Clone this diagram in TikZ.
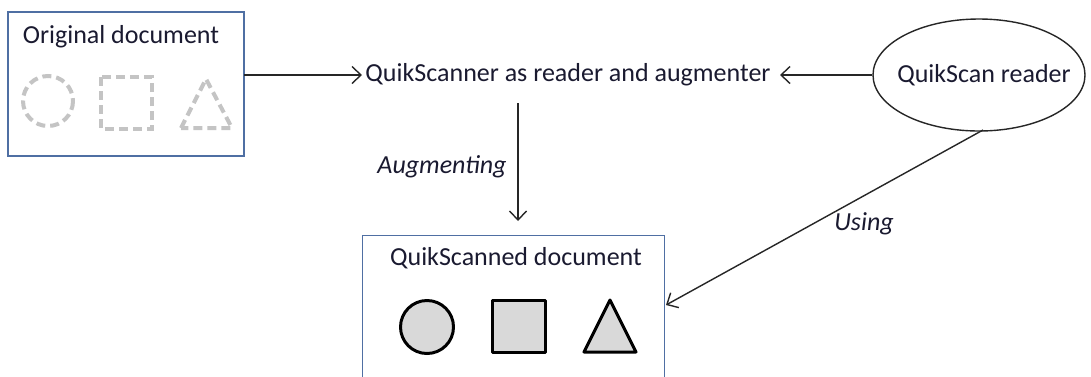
\documentclass[tikz,border=0pt]{standalone}
\usepackage{fontspec}
\setmainfont{Carlito}
\usetikzlibrary{shapes.geometric,arrows.meta}
\definecolor{boxblue}{HTML}{4F6FA3}
\definecolor{dashgray}{HTML}{C4C4C4}
\definecolor{fillgray}{HTML}{D9D9D9}
\definecolor{txt}{HTML}{1A1A30}
\tikzset{
  docbox/.style={draw=boxblue, line width=1.4pt, rectangle, inner sep=0pt},
  lbl/.style={font=\fontsize{26}{30}\selectfont, text=txt, inner sep=0pt},
  edge lbl/.style={font=\fontsize{26}{30}\selectfont\itshape, text=txt, inner sep=0pt},
  conn/.style={draw=black!85, line width=1.4pt, -{Straight Barb[length=9pt,width=17pt,line width=1.4pt]}},
  ghost/.style={draw=dashgray, line width=4pt, dash pattern=on 9pt off 5pt},
  solid shape/.style={draw=black, line width=3pt, fill=fillgray, line join=round},
}
\begin{document}
\begin{tikzpicture}[x=1pt,y=-1pt]
\useasboundingbox (0,0) rectangle (1091,376);
\clip (0,0) rectangle (1091,376);
\fill[white] (0,0) rectangle (1091,376);

% Original document box
\node[docbox, minimum width=236pt, minimum height=144pt] (orig) at (126,84) {};
\node[lbl] (origt) at (121,37) {Original document};
\draw[ghost] (48,101) circle (25);
\draw[ghost] (101,77) rectangle (152,129);
\draw[ghost, line join=round] (181,128) -- (206,79) -- (232,128) -- cycle;

% Central text
\node[lbl] (qs) at (568,75) {QuikScanner as reader and augmenter};

% Ellipse
\node[draw=black!85, line width=1.4pt, ellipse, minimum width=212pt, minimum height=112pt] (reader) at (979,75) {};
\node[lbl] (readert) at (984,75) {QuikScan reader};

% Scanned document box
\node[docbox, minimum width=302pt, minimum height=160pt, anchor=north west] (scan) at (362,235) {};
\node[lbl] (scant) at (516,258) {QuikScanned document};
\draw[solid shape] (427,327) circle (26.5);
\draw[solid shape] (492,300) rectangle (545,352);
\draw[solid shape] (584,352) -- (610,300) -- (636,352) -- cycle;

% Connectors
\coordinate (a1s) at (244,75);
\coordinate (a1e) at (362,75);
\draw[conn] (a1s) -- (a1e);
\coordinate (a2e) at (780,75);
\draw[conn] (reader.west) -- (a2e);
\coordinate (a3s) at (518,103);
\coordinate (a3e) at (518,221);
\draw[conn] (a3s) -- (a3e);
\node[edge lbl] (aug) at (442,167) {Augmenting};
\coordinate (a4s) at (983,130);
\coordinate (a4e) at (666,305);
\draw[conn] (a4s) -- (a4e);
\node[edge lbl] (using) at (864,224) {Using};
\end{tikzpicture}
\end{document}
